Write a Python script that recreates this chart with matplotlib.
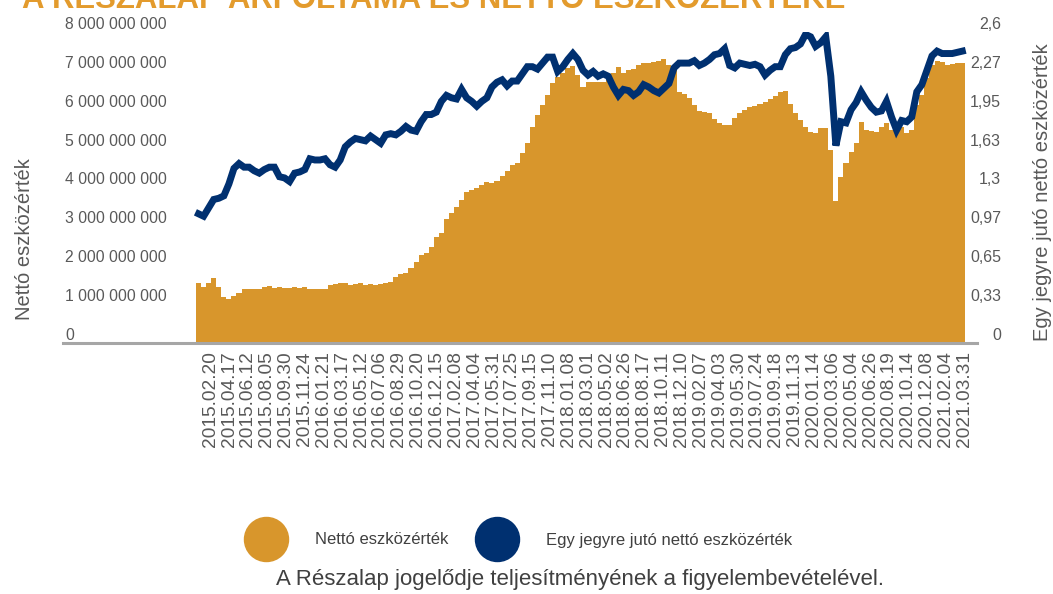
import numpy as np
import matplotlib
matplotlib.use("Agg")
import matplotlib.pyplot as plt
from matplotlib.lines import Line2D

plt.rcParams['font.family'] = ['Liberation Sans', 'DejaVu Sans']

# net asset value, billion HUF (~every 2 weeks)
nav_bn = [
    1.54, 1.45, 1.54, 1.66, 1.45, 1.18, 1.13, 1.22, 1.28, 1.38,
    1.38, 1.38, 1.38, 1.45, 1.47, 1.41, 1.45, 1.41, 1.41, 1.45,
    1.41, 1.45, 1.38, 1.38, 1.38, 1.38, 1.49, 1.51, 1.54, 1.54,
    1.49, 1.52, 1.54, 1.49, 1.52, 1.49, 1.52, 1.54, 1.58,
    1.71, 1.77, 1.79, 1.92, 2.09, 2.26, 2.31, 2.48, 2.72, 2.84,
    3.18, 3.35, 3.51, 3.68, 3.89, 3.94, 3.98, 4.06, 4.15, 4.11,
    4.17, 4.30, 4.43, 4.58, 4.64, 4.88, 5.14, 5.56, 5.86, 6.12,
    6.38, 6.68, 6.85, 6.94, 7.07, 7.12, 6.89, 6.59,
    6.72, 6.72, 6.72, 6.72, 6.76, 6.95, 7.11, 6.95, 7.02, 7.04,
    7.15, 7.19, 7.21, 7.24, 7.26, 7.30, 7.15, 7.02, 6.46, 6.40,
    6.29, 6.12, 5.98, 5.95, 5.91, 5.75, 5.65, 5.61, 5.62, 5.78,
    5.91, 5.99, 6.06, 6.10, 6.16, 6.21, 6.27, 6.35,
    6.46, 6.49, 6.16, 5.91, 5.74, 5.55, 5.44, 5.39, 5.52, 5.52,
    4.96, 3.65, 4.28, 4.62, 4.92, 5.14, 5.69, 5.48, 5.46, 5.44,
    5.56, 5.65, 5.48, 5.39, 5.56, 5.41, 5.48, 6.12, 6.38, 6.81,
    7.15, 7.26, 7.24, 7.15, 7.18, 7.21, 7.19,
]

# net asset value per unit
price = [
    1.08, 1.06, 1.13, 1.20, 1.21, 1.23, 1.33, 1.46, 1.50, 1.47,
    1.47, 1.44, 1.42, 1.45, 1.47, 1.47, 1.39, 1.38, 1.35, 1.42,
    1.43, 1.45, 1.54, 1.53, 1.53, 1.54, 1.49, 1.47, 1.53, 1.64,
    1.68, 1.71, 1.70, 1.69, 1.73, 1.70, 1.67, 1.74, 1.75,
    1.74, 1.77, 1.81, 1.78, 1.77, 1.85, 1.91, 1.91, 1.93, 2.02,
    2.07, 2.05, 2.04, 2.12, 2.05, 2.02, 1.98, 2.02, 2.05, 2.14,
    2.18, 2.20, 2.15, 2.19, 2.19, 2.25, 2.31, 2.31, 2.29, 2.34,
    2.39, 2.39, 2.27, 2.31, 2.37, 2.42, 2.37, 2.28,
    2.24, 2.27, 2.23, 2.25, 2.23, 2.14, 2.07, 2.12, 2.11, 2.07,
    2.10, 2.16, 2.14, 2.11, 2.09, 2.13, 2.17, 2.30, 2.34, 2.34,
    2.34, 2.36, 2.32, 2.34, 2.37, 2.41, 2.42, 2.46, 2.32, 2.30,
    2.34, 2.33, 2.32, 2.33, 2.31, 2.24, 2.28, 2.31,
    2.31, 2.41, 2.46, 2.47, 2.50, 2.58, 2.56, 2.48, 2.51, 2.56,
    2.23, 1.65, 1.85, 1.84, 1.95, 2.01, 2.10, 2.03, 1.97, 1.93,
    1.94, 2.02, 1.89, 1.78, 1.86, 1.85, 1.89, 2.10, 2.16, 2.28,
    2.40, 2.44, 2.42, 2.42, 2.42, 2.43, 2.44,
]

date_labels = [
    '2015.02.20', '2015.04.17', '2015.06.12', '2015.08.05', '2015.09.30', '2015.11.24',
    '2016.01.21', '2016.03.17', '2016.05.12', '2016.07.06', '2016.08.29', '2016.10.20',
    '2016.12.15', '2017.02.08', '2017.04.04', '2017.05.31', '2017.07.25', '2017.09.15',
    '2017.11.10', '2018.01.08', '2018.03.01', '2018.05.02', '2018.06.26', '2018.08.17',
    '2018.10.11', '2018.12.10', '2019.02.07', '2019.04.03', '2019.05.30', '2019.07.24',
    '2019.09.18', '2019.11.13', '2020.01.14', '2020.03.06', '2020.05.04', '2020.06.26',
    '2020.08.19', '2020.10.14', '2020.12.08', '2021.02.04', '2021.03.31',
]

left_ticks = [0, 1e9, 2e9, 3e9, 4e9, 5e9, 6e9, 7e9, 8e9]
left_labels = ['0', '1 000 000 000', '2 000 000 000', '3 000 000 000', '4 000 000 000',
               '5 000 000 000', '6 000 000 000', '7 000 000 000', '8 000 000 000']
right_ticks = [0, 0.325, 0.65, 0.975, 1.3, 1.625, 1.95, 2.275, 2.6]
right_labels = ['0', '0,33', '0,65', '0,97', '1,3', '1,63', '1,95', '2,27', '2,6']

ORANGE = '#D8962C'
NAVY = '#003070'
GREY_TXT = '#595959'

W, H = 1053, 594
fig = plt.figure(figsize=(W / 100, H / 100), dpi=100)
ax = fig.add_axes([63 / W, 1 - 343 / H, (977 - 63) / W, 311 / H])

x = np.arange(len(nav_bn))
nav = np.array(nav_bn) * 1e9
ax.bar(x, nav, width=1.0, color=ORANGE, linewidth=0, zorder=2)
ax.set_xlim(-26.8, 153.9)
ax.set_ylim(0, 8e9)

ax.set_xticks(np.linspace(2.3, 151.4, len(date_labels)))
ax.set_xticklabels(date_labels, rotation=90, fontsize=13.8, color=GREY_TXT, va='top')
ax.tick_params(axis='x', length=0, pad=6)

ax.set_yticks(left_ticks)
ax.set_yticklabels(left_labels, fontsize=11.3, color=GREY_TXT)
ax.tick_params(axis='y', length=0, pad=-1.44)
for lab in ax.get_yticklabels():
    lab.set_ha('left')
    lab.set_va('bottom')

for s in ['top', 'left', 'right']:
    ax.spines[s].set_visible(False)
ax.spines['bottom'].set_color('#A6A6A6')
ax.spines['bottom'].set_linewidth(2.2)
ax.spines['bottom'].set_zorder(3)

ax2 = ax.twinx()
ax2.plot(x, price, color=NAVY, linewidth=5, solid_joinstyle='miter', zorder=4)
ax2.set_ylim(0, 2.6)
ax2.set_yticks(right_ticks)
ax2.set_yticklabels(right_labels, fontsize=11.5, color=GREY_TXT)
ax2.tick_params(axis='y', length=0, pad=17.3)
for lab in ax2.get_yticklabels():
    lab.set_ha('right')
    lab.set_va('bottom')
for s in ax2.spines.values():
    s.set_visible(False)

fig.text(25 / W, 1 - 239 / H, 'Nettó eszközérték', rotation=90, ha='center', va='center',
         fontsize=14.5, color=GREY_TXT)
fig.text(1043 / W, 1 - 192 / H, 'Egy jegyre jutó nettó eszközérték', rotation=90,
         ha='center', va='center', fontsize=14.5, color=GREY_TXT)

# title, cut off at the top edge like in the original
fig.text(22 / W, 1 - 7.5 / H, 'A RÉSZALAP ÁRFOLYAMA ÉS NETTÓ ESZKÖZÉRTÉKE',
         ha='left', va='baseline', fontsize=22.4, fontweight='bold', color='#E39B2D')

handles = [Line2D([], [], marker='o', linestyle='none', markersize=31.7, color=ORANGE),
           Line2D([], [], marker='o', linestyle='none', markersize=31.7, color=NAVY)]
fig.legend(handles, ['Nettó eszközérték', 'Egy jegyre jutó nettó eszközérték'],
           loc='center left', bbox_to_anchor=(244 / W, 1 - 540 / H), ncol=2,
           frameon=False, fontsize=12, handlelength=2.6, handletextpad=1.64,
           columnspacing=1.65, borderpad=0, borderaxespad=0, labelcolor='#404040')

fig.text(580 / W, 1 - 580 / H, 'A Részalap jogelődje teljesítményének a figyelembevételével.',
         ha='center', va='center', fontsize=16, color='#404040')

fig.savefig('out.png', dpi=100)
